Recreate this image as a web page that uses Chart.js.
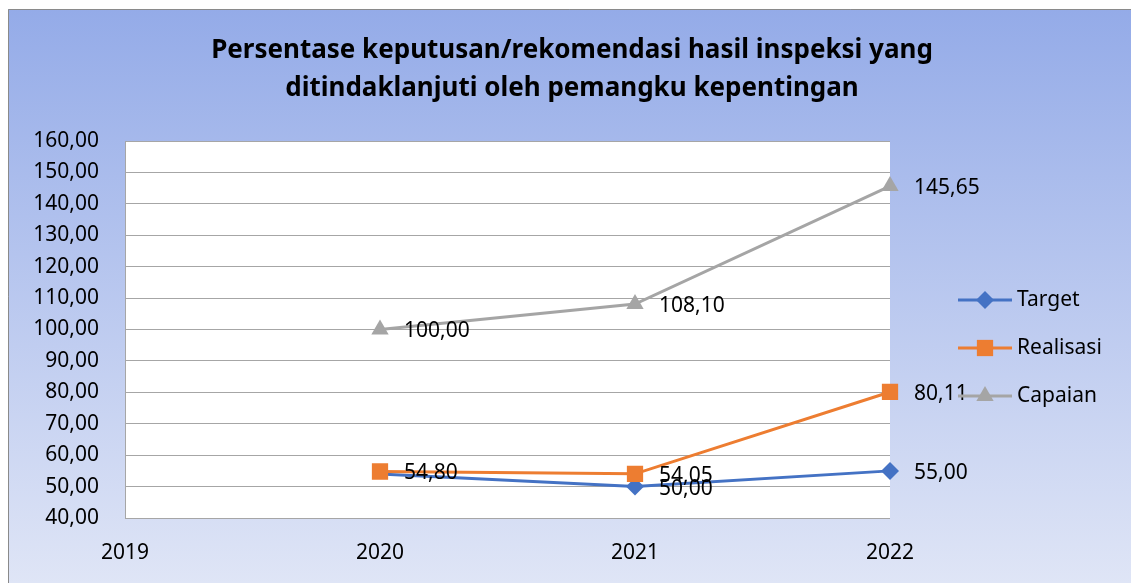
<!DOCTYPE html>
<html>
<head>
<meta charset="utf-8">
<script src="https://cdn.jsdelivr.net/npm/chart.js@4/dist/chart.umd.min.js"></script>
<style>
html,body{margin:0;padding:0;background:#fff;}
#wrap{width:1131px;height:583px;position:relative;}
</style>
</head>
<body>
<div id="wrap"><canvas id="c" width="1131" height="583"></canvas></div>
<script>
const titleLines = ['Persentase keputusan/rekomendasi hasil inspeksi yang', 'ditindaklanjuti oleh pemangku kepentingan'];
const years = ['2019', '2020', '2021', '2022'];
const target = [null, 54.00, 50.00, 55.00];
const realisasi = [null, 54.80, 54.05, 80.11];
const capaian = [null, 100.00, 108.10, 145.65];
const targetShowLabel = [false, false, true, true];
const realisasiShowLabel = [false, true, true, true];
const capaianShowLabel = [false, true, true, true];
const seriesNames = ['Target', 'Realisasi', 'Capaian'];
const seriesColors = ['#4472C4', '#ED7D31', '#A5A5A5'];
const yMin = 40, yMax = 160, yStep = 10;

const FONT = '"Noto Sans", "Open Sans", sans-serif';
const fmt = v => v.toFixed(2).replace('.', ',');

const bgPlugin = {
  id: 'bg',
  beforeDraw(chart) {
    const ctx = chart.ctx;
    const W = chart.width, H = chart.height;
    ctx.save();
    ctx.fillStyle = '#ffffff';
    ctx.fillRect(0, 0, W, H);
    const g = ctx.createLinearGradient(0, 9, 0, H);
    g.addColorStop(0, '#94abe8');
    g.addColorStop(1, '#dfe5f6');
    ctx.fillStyle = g;
    ctx.fillRect(8, 9, W - 8, H - 9);
    ctx.strokeStyle = '#8a8a8a';
    ctx.lineWidth = 1;
    ctx.beginPath();
    ctx.moveTo(8.5, H);
    ctx.lineTo(8.5, 9.5);
    ctx.lineTo(W, 9.5);
    ctx.stroke();
    const a = chart.chartArea;
    ctx.fillStyle = '#ffffff';
    ctx.fillRect(a.left, a.top, a.right - a.left, a.bottom - a.top);
    // title
    ctx.fillStyle = '#000000';
    ctx.font = 'bold 26px ' + FONT;
    ctx.textAlign = 'center';
    ctx.textBaseline = 'middle';
    ctx.fillText(titleLines[0], 572, 51);
    ctx.fillText(titleLines[1], 572, 89);
    ctx.restore();
  }
};

const labelPlugin = {
  id: 'labels',
  afterDatasetsDraw(chart) {
    const ctx = chart.ctx;
    ctx.save();
    ctx.font = '21px ' + FONT;
    ctx.fillStyle = '#000000';
    ctx.textAlign = 'left';
    ctx.textBaseline = 'middle';
    const flags = [targetShowLabel, realisasiShowLabel, capaianShowLabel];
    chart.data.datasets.forEach((ds, i) => {
      const meta = chart.getDatasetMeta(i);
      meta.data.forEach((pt, j) => {
        const v = ds.data[j];
        if (v === null || !flags[i][j]) return;
        ctx.fillText(fmt(v), pt.x + 24, pt.y + 2);
      });
    });
    // legend
    const lx1 = 958, lx2 = 1012, tx = 1017;
    const ly = [300, 348, 396];
    const radii = [9, 11.5, 10];
    chart.data.datasets.forEach((ds, i) => {
      const y = ly[i];
      ctx.strokeStyle = ds.borderColor;
      ctx.lineWidth = 3;
      ctx.beginPath();
      ctx.moveTo(lx1, y);
      ctx.lineTo(lx2, y);
      ctx.stroke();
      ctx.fillStyle = ds.borderColor;
      ctx.strokeStyle = ds.borderColor;
      Chart.helpers.drawPoint(ctx, {pointStyle: ds.pointStyle, radius: radii[i], borderWidth: 0, rotation: 0}, (lx1 + lx2) / 2, y);
      ctx.fillStyle = '#000000';
      ctx.fillText(seriesNames[i], tx, y);
    });
    ctx.restore();
  }
};

const mk = (name, data, color, style, r, order) => ({
  label: name, data, borderColor: color, backgroundColor: color, order,
  borderWidth: 3, pointStyle: style, pointRadius: r, pointHoverRadius: r,
  pointBorderWidth: 0, pointBackgroundColor: color, tension: 0, spanGaps: false
});

new Chart(document.getElementById('c'), {
  type: 'line',
  data: {
    labels: years,
    datasets: [
      mk(seriesNames[0], target, seriesColors[0], 'rectRot', [9, 0, 9, 9], 3),
      mk(seriesNames[1], realisasi, seriesColors[1], 'rect', 11.5, 2),
      mk(seriesNames[2], capaian, seriesColors[2], 'triangle', 10, 1)
    ]
  },
  options: {
    responsive: false,
    animation: false,
    events: [],
    layout: { padding: { left: 0, right: 241, top: 141, bottom: 0 } },
    plugins: { legend: { display: false }, title: { display: false }, tooltip: { enabled: false } },
    scales: {
      x: {
        type: 'category',
        offset: false,
        grid: { display: false, drawTicks: false },
        border: { display: false },
        ticks: { color: '#000', font: { family: FONT, size: 21 }, padding: 22, maxRotation: 0 },
        afterFit(s) { s.height = 65; }
      },
      y: {
        min: yMin, max: yMax,
        grid: { color: '#a6a6a6', lineWidth: 1, drawTicks: false },
        border: { display: true, color: '#a6a6a6', width: 1 },
        ticks: { stepSize: yStep, color: '#000', font: { family: FONT, size: 21 }, padding: 26,
                 callback: v => fmt(v) },
        afterFit(s) { s.width = 125; }
      }
    }
  },
  plugins: [bgPlugin, labelPlugin]
});
</script>
</body>
</html>
